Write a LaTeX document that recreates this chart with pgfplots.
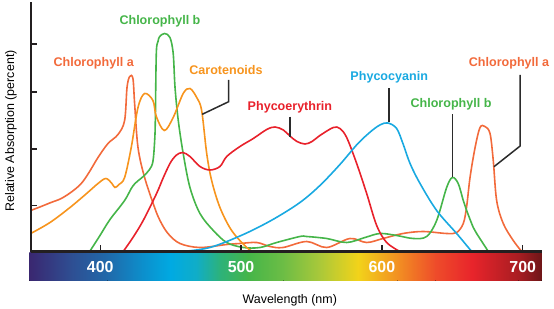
\documentclass[border=0pt]{standalone}
\usepackage{pgfplots}
\pgfplotsset{compat=1.18}
\usepackage{fontspec}
\setmainfont{Liberation Sans}
\definecolor{chla}{HTML}{F26A3B}
\definecolor{chlb}{HTML}{45B549}
\definecolor{caro}{HTML}{F7941D}
\definecolor{pery}{HTML}{E8212B}
\definecolor{pcya}{HTML}{19A9E1}
\definecolor{axc}{HTML}{231F20}
\definecolor{lead}{HTML}{2B2B2B}
\definecolor{s1}{HTML}{3A2770}
\definecolor{s2}{HTML}{2E4F93}
\definecolor{s3}{HTML}{2069AA}
\definecolor{s4}{HTML}{0C8FCC}
\definecolor{s5}{HTML}{00AAE2}
\definecolor{s6}{HTML}{10ADC8}
\definecolor{s7}{HTML}{2DB27A}
\definecolor{s8}{HTML}{45B549}
\definecolor{s9}{HTML}{6DBD45}
\definecolor{s10}{HTML}{A8C83A}
\definecolor{s11}{HTML}{F2D31A}
\definecolor{s12}{HTML}{F29022}
\definecolor{s13}{HTML}{EE4C2A}
\definecolor{s14}{HTML}{E8242B}
\definecolor{s15}{HTML}{A81D22}
\definecolor{s16}{HTML}{6E1618}
\newcommand\lab{\bfseries\fontsize{12.6}{14}\selectfont}
\tikzset{curve/.style={line width=1.6bp, smooth, tension=0.55, mark=none}}
\begin{document}
\begin{tikzpicture}
\useasboundingbox (-30.7bp,-57.5bp) rectangle (523.3bp,251.5bp);
\begin{axis}[at={(0,0)}, anchor=south west, scale only axis,
  width=511bp, height=249bp,
  xmin=350.6, xmax=713.5, ymin=0, ymax=249,
  axis lines=left, axis on top, clip=false,
  axis line style={-, line width=2bp, color=axc},
  xtick={400,500,600,700}, ytick={46,102.5,159.5,207.5}, yticklabels={},
  tick align=inside, major tick length=6bp,
  tick style={line width=1.5bp, color=axc},
  /pgf/number format/assume math mode=true,
  xticklabel style={text=white, font=\bfseries\fontsize{16}{18}\selectfont, anchor=center, yshift=-15.2bp},
  xlabel={Wavelength (nm)}, ylabel={Relative Absorption (percent)},
  label style={font=\fontsize{12.5}{14}\selectfont},
  xlabel style={at={(axis description cs:0.507,-0.195)}, anchor=center},
  ylabel style={at={(axis description cs:-0.0386,0.484)}, anchor=center},
]
% colour bar
\fill[left color=s1, right color=s2] (axis cs:349.6,-1.2) rectangle (axis cs:380.2,-29.2);
\fill[left color=s2, right color=s3] (axis cs:380,-1.2) rectangle (axis cs:405.2,-29.2);
\fill[left color=s3, right color=s4] (axis cs:405,-1.2) rectangle (axis cs:430.2,-29.2);
\fill[left color=s4, right color=s5] (axis cs:430,-1.2) rectangle (axis cs:450.2,-29.2);
\fill[left color=s5, right color=s6] (axis cs:450,-1.2) rectangle (axis cs:468.2,-29.2);
\fill[left color=s6, right color=s7] (axis cs:468,-1.2) rectangle (axis cs:485.2,-29.2);
\fill[left color=s7, right color=s8] (axis cs:485,-1.2) rectangle (axis cs:505.2,-29.2);
\fill[left color=s8, right color=s9] (axis cs:505,-1.2) rectangle (axis cs:530.2,-29.2);
\fill[left color=s9, right color=s10] (axis cs:530,-1.2) rectangle (axis cs:555.2,-29.2);
\fill[left color=s10, right color=s11] (axis cs:555,-1.2) rectangle (axis cs:583.2,-29.2);
\fill[left color=s11, right color=s12] (axis cs:583,-1.2) rectangle (axis cs:611.2,-29.2);
\fill[left color=s12, right color=s13] (axis cs:611,-1.2) rectangle (axis cs:638.2,-29.2);
\fill[left color=s13, right color=s14] (axis cs:638,-1.2) rectangle (axis cs:664.2,-29.2);
\fill[left color=s14, right color=s15] (axis cs:664,-1.2) rectangle (axis cs:697.2,-29.2);
\fill[left color=s15, right color=s16] (axis cs:697,-1.2) rectangle (axis cs:713.5,-29.2);
% Chlorophyll a
\addplot[chla, curve] coordinates {(350.6,41) (358,45) (365,49) (372.3,53) (380,60) (386.5,68) (392,79) (398.4,94) (405.5,108) (412.6,117) (417.3,131) (419.0,164) (420.9,175) (423.2,173) (424.4,148) (426.8,104) (431.5,74) (438.6,44) (442.4,31) (448.1,18) (456.6,8) (470.8,4) (489.8,7) (499.2,8) (511.1,9) (520.5,5) (529.8,4) (546.6,10) (560.8,4) (577.3,13) (589.2,9) (600.8,13) (615.0,18) (629.2,20) (646.0,18) (653.1,19) (657.8,28) (660.2,45) (662.6,74) (666.2,104) (669.7,124) (673.2,125) (676.8,118) (679.1,91) (681.5,51) (686.2,28) (693.3,11) (699.3,0)};
% Chlorophyll b
\addplot[chlb, curve] coordinates {(392.5,0) (399.8,16) (406.9,32) (417.3,51) (423.4,66) (430.5,75) (435,82) (437.4,90) (438.6,110) (439.1,131) (439.8,198) (441,210) (442.2,215) (445.7,218) (449.5,214) (451.8,198) (453.1,164) (455.4,131) (458.9,98) (463.7,64) (470.8,38) (480.3,21) (489.8,9) (501.6,4) (513.4,4) (525.3,9) (541.8,15) (546.6,15) (560.8,13) (575.0,9) (588,14) (598.6,18) (610.5,16) (622.3,13) (631.8,15) (638.9,31) (646.0,64) (650.1,74) (654.2,68) (657.8,51) (660.2,41) (664.9,24) (667.3,18) (675.6,0)};
% Carotenoids
\addplot[caro, curve] coordinates {(350.6,18) (364.3,29) (378.5,44) (390.3,58) (398.4,68) (404.0,73) (408.3,68) (410.4,64) (413.3,67) (417.3,74) (422.0,104) (426.8,144) (431.5,158) (437.4,151) (439.8,135) (445.5,121) (451.8,134) (458.9,158) (463.7,163) (468.5,154) (472.0,141) (475.6,98) (479.1,71) (485.0,44) (493.3,21) (504.0,4) (508.7,0)};
% Phycoerythrin
\addplot[pery, curve] coordinates {(416.3,0) (423.2,14) (430.5,31) (440.0,58) (444.5,73) (449.5,88) (453.7,96) (458.5,99) (463.7,95) (470.8,85) (477.9,81.5) (485.0,85) (489.8,95) (499.2,105) (508.7,113) (518.2,122) (524.1,124.5) (530.0,121.5) (534.7,115.5) (539.7,110) (545.4,107.5) (550.4,110) (556.0,116) (565.5,124) (570.2,123) (575.0,114) (582.1,88) (589.2,58) (596.3,26) (603.4,9) (612.8,0)};
% Phycocyanin
\addplot[pcya, curve] coordinates {(458.0,0) (477.9,4) (501.6,17) (522.6,32) (541.8,49) (556.0,66) (570.2,87) (583.0,108) (593.0,121) (599.3,127) (604.3,128.5) (610.5,123) (615.2,107) (620.0,88) (627.1,68) (638.9,41) (653.1,18) (662.6,2) (664.0,0)};
% leader lines
\draw[lead, line width=1.5bp] (axis cs:491.2,171.5) -- (axis cs:491.2,149.8) -- (axis cs:472.4,137.2);
\draw[lead, line width=1.5bp] (axis cs:534.7,134.8) -- (axis cs:534.7,114.8);
\draw[lead, line width=1.5bp] (axis cs:605.0,163.2) -- (axis cs:605.0,129.2);
\draw[lead, line width=1.5bp] (axis cs:650.0,137.2) -- (axis cs:650.0,74.8);
\draw[lead, line width=1.5bp] (axis cs:698.2,176.5) -- (axis cs:698.2,105.5) -- (axis cs:679.6,84.8);
% labels
\node[font=\lab, text=chlb] at (axis cs:442.4,229.8) {Chlorophyll b};
\node[font=\lab, text=chla] at (axis cs:395.3,188.2) {Chlorophyll a};
\node[font=\lab, text=caro] at (axis cs:489.3,181.5) {Carotenoids};
\node[font=\lab, text=pery] at (axis cs:534.7,144.2) {Phycoerythrin};
\node[font=\lab, text=pcya] at (axis cs:605.2,173.8) {Phycocyanin};
\node[font=\lab, text=chlb] at (axis cs:649.1,147.2) {Chlorophyll b};
\node[font=\lab, text=chla] at (axis cs:690.3,188.2) {Chlorophyll a};
\end{axis}
\end{tikzpicture}
\end{document}
